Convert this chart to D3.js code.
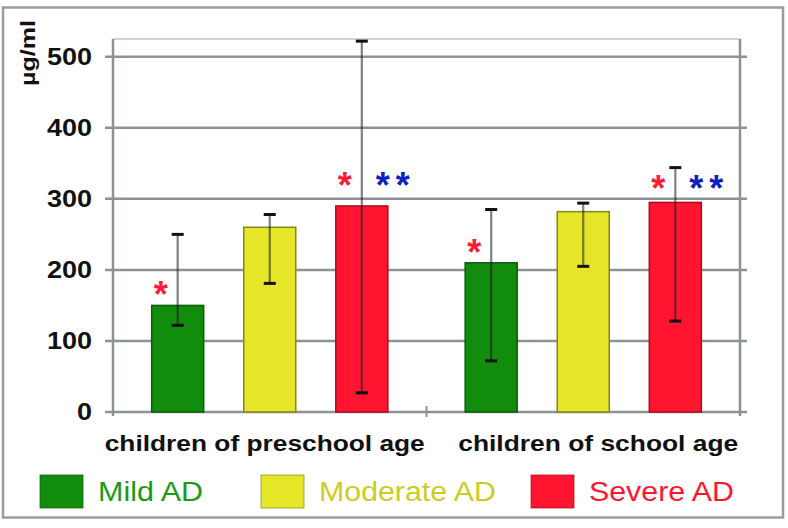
<!DOCTYPE html>
<html><head><meta charset="utf-8">
<script src="https://cdn.jsdelivr.net/npm/d3@7"></script>
<style>body{margin:0;background:#fff}svg{display:block}text{font-family:"Liberation Sans",Arial,sans-serif}</style>
</head><body><svg id="c" width="788" height="528"></svg>
<script>
const groups = ["children of preschool age", "children of school age"];
const severities = ["Mild AD", "Moderate AD", "Severe AD"];
const meanPreschool = [150, 260, 290];
const meanSchool = [210, 282, 295];
const upperPreschool = [250, 278, 522];
const upperSchool = [285, 294, 344];
const lowerPreschool = [122, 181, 27];
const lowerSchool = [72, 205, 128];
const yTicks = [0, 100, 200, 300, 400, 500];
const yLabel = "µg/ml";
// significance markers: severity, star colour, value level
const starsPreschool = [["Mild AD", "red", 176], ["Severe AD", "red", 330], ["Severe AD", "blue", 330], ["Severe AD", "blue", 330]];
const starsSchool = [["Mild AD", "red", 235], ["Severe AD", "red", 325], ["Severe AD", "blue", 325], ["Severe AD", "blue", 325]];

const fill = {"Mild AD": "#118c0c", "Moderate AD": "#e6e628", "Severe AD": "#ff1530"};
const stroke = {"Mild AD": "#0b5e08", "Moderate AD": "#858520", "Severe AD": "#a80c1c"};
const legendText = {"Mild AD": "#1b9a16", "Moderate AD": "#cccc22", "Severe AD": "#ff1530"};
const starCol = {red: "#ff1a35", blue: "#1020c0"};

const rows = groups.map((g, gi) => severities.map((s, si) => ({
  group: g, sev: s,
  mean: [meanPreschool, meanSchool][gi][si],
  hi: [upperPreschool, upperSchool][gi][si],
  lo: [lowerPreschool, lowerSchool][gi][si]
}))).flat();

const svg = d3.select("#c");
const L = 113, R = 740, T = 39, B = 412;
const x0 = d3.scaleBand().domain(groups).range([L, R]);
const x1 = d3.scaleBand().domain(severities).range([0, x0.bandwidth()]).paddingInner(0.435).paddingOuter(0.42);
const y = d3.scaleLinear().domain([0, 525]).range([B, T]);

// outer frame
svg.append("rect").attr("x", 3).attr("y", 7.5).attr("width", 780).attr("height", 510)
  .attr("fill", "#fff").attr("stroke", "#9a9d9f").attr("stroke-width", 2.5);

// top border of plot
svg.append("line").attr("x1", L).attr("x2", R).attr("y1", T).attr("y2", T).attr("stroke", "#cfd3d5").attr("stroke-width", 2);

// grid lines
svg.append("g").selectAll("line").data(yTicks).join("line")
  .attr("x1", L - 8).attr("x2", R + 7).attr("y1", d => y(d)).attr("y2", d => y(d))
  .attr("stroke", "#8c9396").attr("stroke-width", 2.5);

// vertical axis lines
svg.append("line").attr("x1", L).attr("x2", L).attr("y1", T).attr("y2", B + 4).attr("stroke", "#8c9396").attr("stroke-width", 2.5);
svg.append("line").attr("x1", R).attr("x2", R).attr("y1", T).attr("y2", B + 4).attr("stroke", "#8c9396").attr("stroke-width", 2.5);
// category separator tick
svg.append("line").attr("x1", x0(groups[1])).attr("x2", x0(groups[1])).attr("y1", B - 6).attr("y2", B + 5).attr("stroke", "#8c9396").attr("stroke-width", 2);

// y axis labels
const yAxis = d3.axisLeft(y).tickValues(yTicks).tickSize(0).tickPadding(21);
const ya = svg.append("g").attr("transform", `translate(${L},0)`).call(yAxis);
ya.select(".domain").remove();
ya.selectAll("text").attr("font-size", 24).attr("font-weight", "bold").attr("fill", "#111")
  .attr("font-family", "Liberation Sans, Arial, sans-serif")
  .attr("textLength", d => String(d).length * 15).attr("lengthAdjust", "spacingAndGlyphs");

// x axis labels
const xa = svg.append("g").attr("transform", `translate(0,${B})`).call(d3.axisBottom(x0).tickSize(0).tickPadding(23));
xa.select(".domain").remove();
xa.selectAll("text").attr("font-size", 22).attr("font-weight", "bold").attr("fill", "#111")
  .attr("font-family", "Liberation Sans, Arial, sans-serif")
  .attr("dx", (d, i) => [-5, 15][i])
  .attr("textLength", (d, i) => [320, 280][i]).attr("lengthAdjust", "spacingAndGlyphs");

// y label
svg.append("text").attr("transform", "translate(35,53) rotate(-90)").attr("text-anchor", "middle")
  .attr("font-size", 21).attr("font-weight", "bold").attr("fill", "#111")
  .attr("textLength", 66).attr("lengthAdjust", "spacingAndGlyphs").text(yLabel);

// bars
const bx = d => x0(d.group) + x1(d.sev);
svg.append("g").selectAll("rect").data(rows).join("rect")
  .attr("x", bx).attr("y", d => y(d.mean)).attr("width", x1.bandwidth()).attr("height", d => y(0) - y(d.mean))
  .attr("fill", d => fill[d.sev]).attr("stroke", d => stroke[d.sev]).attr("stroke-width", 1.5);

// error bars
const cx = d => bx(d) + x1.bandwidth() / 2;
const eb = svg.append("g");
eb.selectAll("line.v").data(rows).join("line").attr("class", "v")
  .attr("x1", cx).attr("x2", cx).attr("y1", d => y(d.hi)).attr("y2", d => y(d.lo))
  .attr("stroke", "#1a1a1a").attr("stroke-opacity", 0.55).attr("stroke-width", 2.2);
eb.selectAll("line.hi").data(rows).join("line").attr("class", "hi")
  .attr("x1", d => cx(d) - 6).attr("x2", d => cx(d) + 6).attr("y1", d => y(d.hi)).attr("y2", d => y(d.hi))
  .attr("stroke", "#111").attr("stroke-width", 3);
eb.selectAll("line.lo").data(rows).join("line").attr("class", "lo")
  .attr("x1", d => cx(d) - 6).attr("x2", d => cx(d) + 6).attr("y1", d => y(d.lo)).attr("y2", d => y(d.lo))
  .attr("stroke", "#111").attr("stroke-width", 3);

// stars
const starRows = [];
[starsPreschool, starsSchool].forEach((arr, gi) => {
  let blue = 0;
  arr.forEach(([sev, col, v]) => {
    const c = x0(groups[gi]) + x1(sev) + x1.bandwidth() / 2;
    let off;
    if (col === "red") off = -17; else { off = 21 + blue * 20; blue++; }
    starRows.push({x: c + off, v, col});
  });
});
svg.append("g").selectAll("text").data(starRows).join("text")
  .attr("x", d => d.x).attr("y", d => y(d.v) + 20).attr("text-anchor", "middle")
  .attr("font-size", 36).attr("font-weight", "bold").attr("fill", d => starCol[d.col]).text("*");

// legend
const legX = [40, 261, 531];
const legW = [105, 177, 145];
const lg = svg.append("g").selectAll("g").data(severities).join("g")
  .attr("transform", (d, i) => `translate(${legX[i]},475)`);
lg.append("rect").attr("width", 43).attr("height", 33).attr("fill", d => fill[d]).attr("stroke", d => stroke[d]).attr("stroke-width", 1.2)
  .attr("stroke-opacity", 0.6);
lg.append("text").attr("x", 58).attr("y", 26).attr("font-size", 27).attr("fill", d => legendText[d])
  .attr("textLength", (d, i) => legW[i]).attr("lengthAdjust", "spacingAndGlyphs").text(d => d);
</script></body></html>
